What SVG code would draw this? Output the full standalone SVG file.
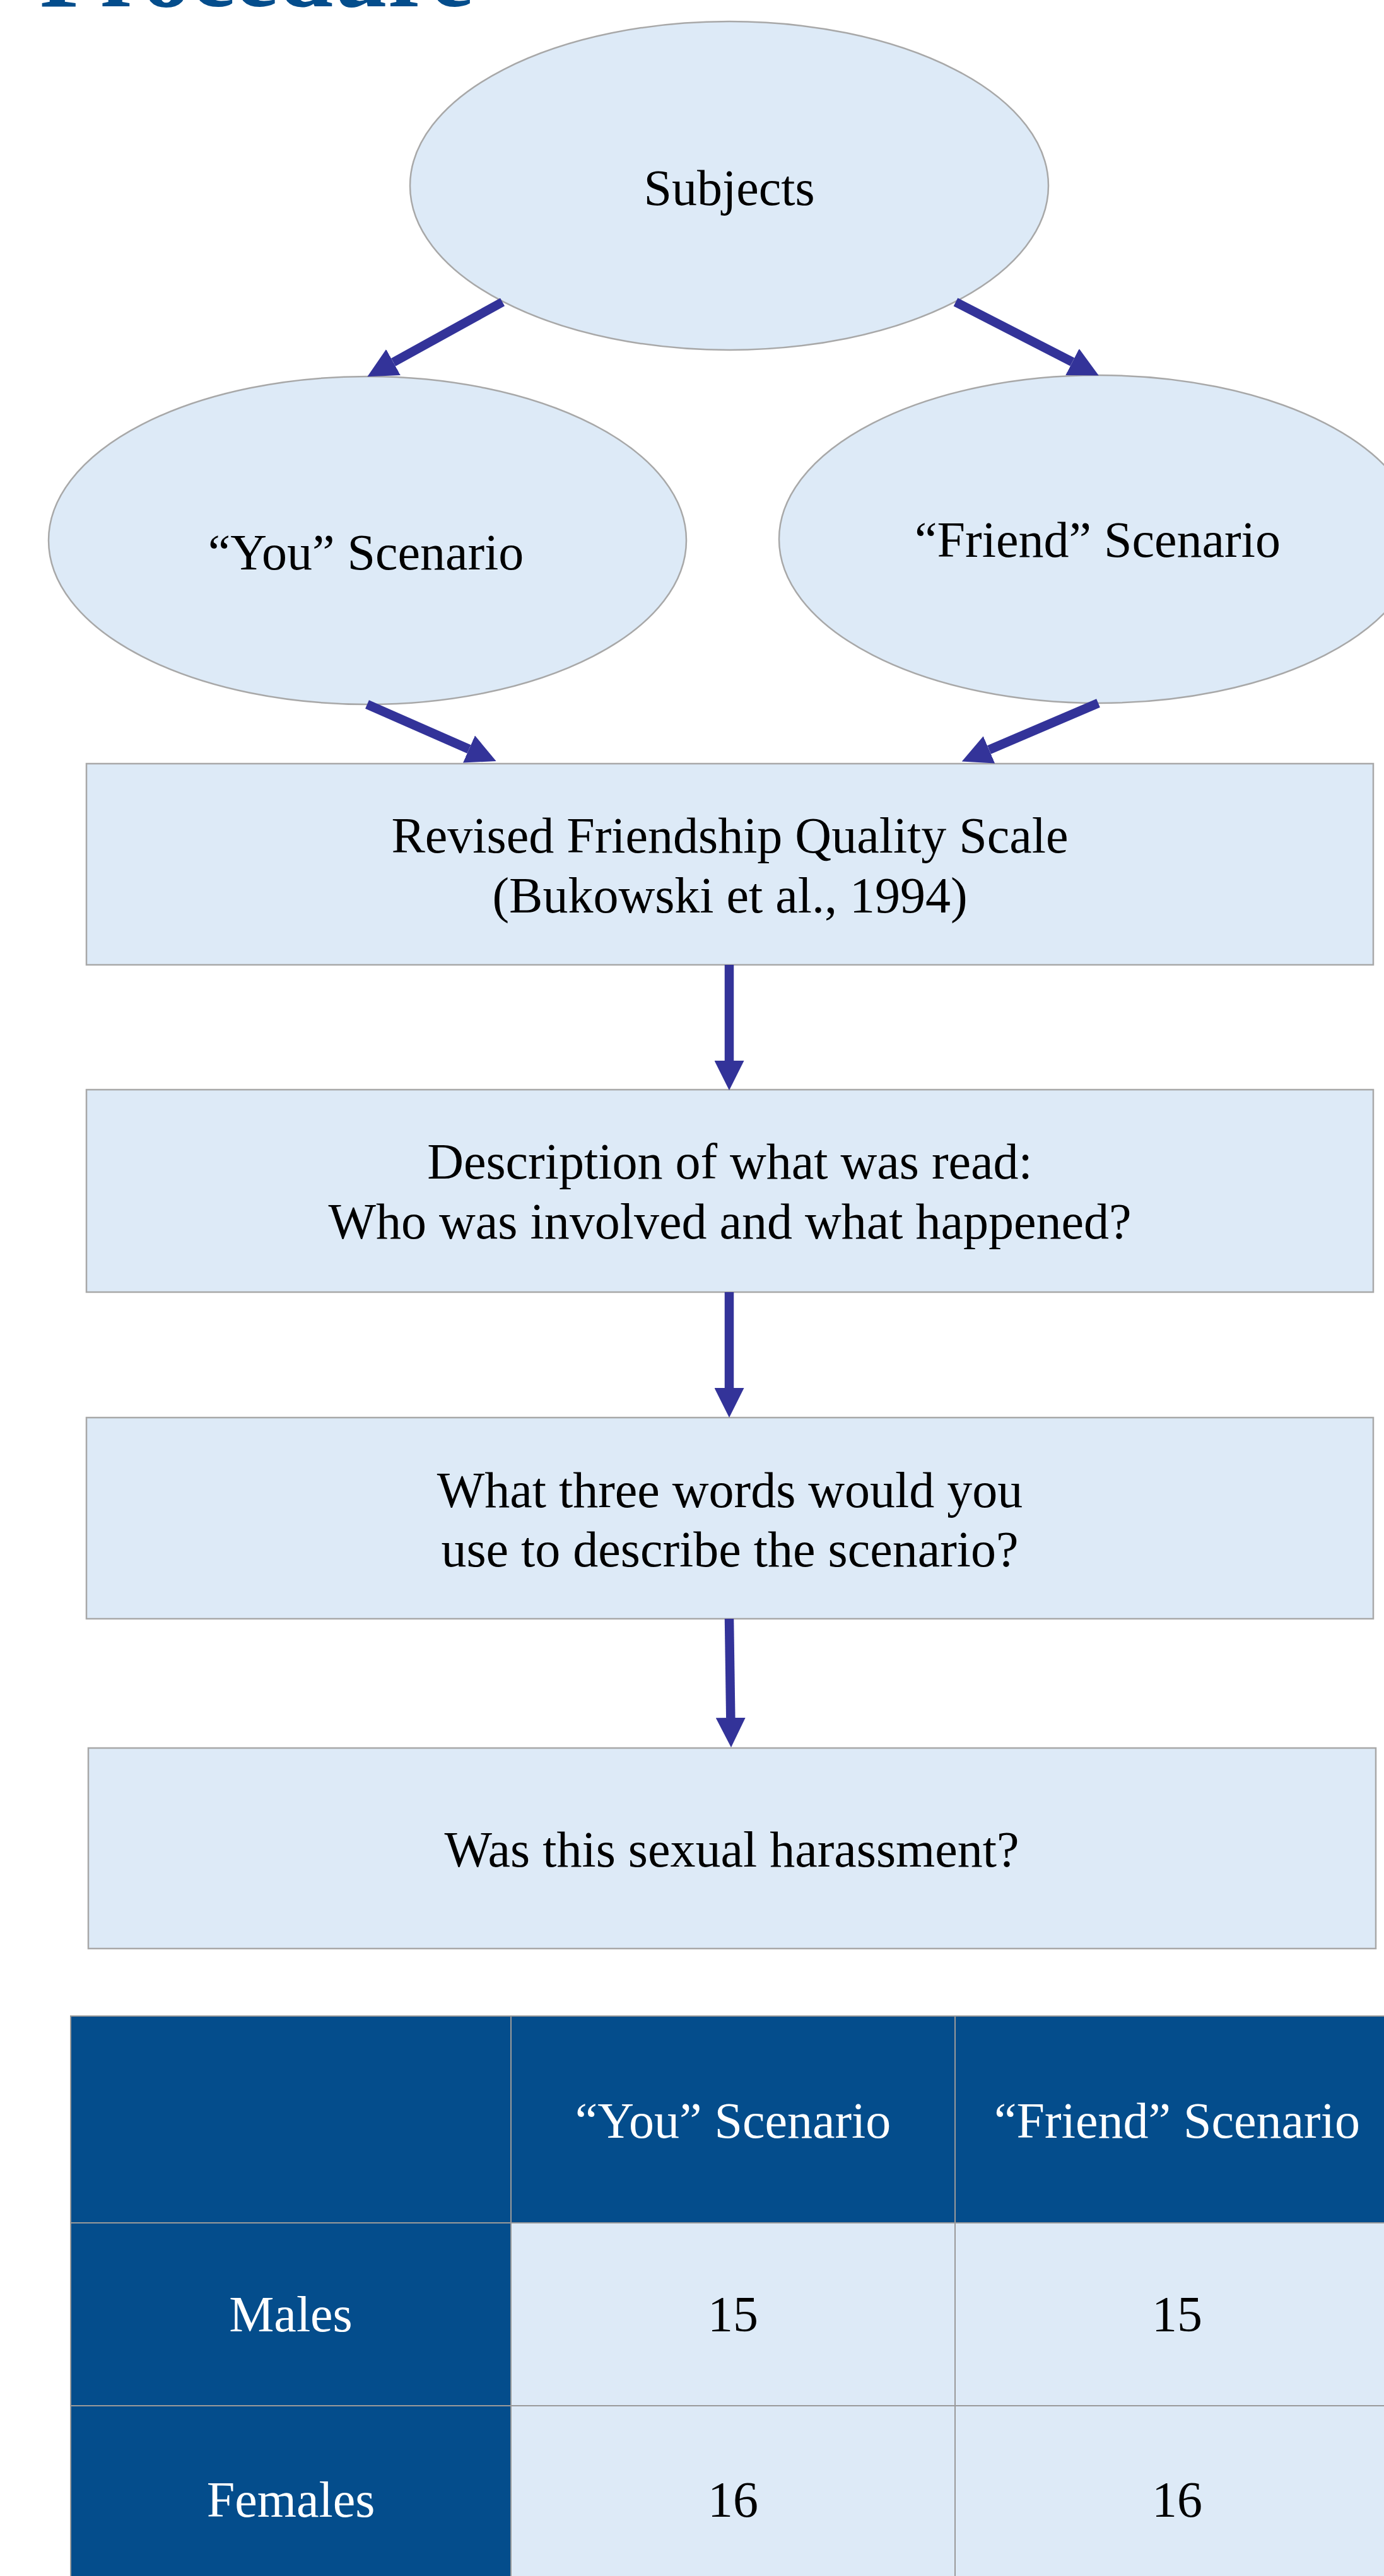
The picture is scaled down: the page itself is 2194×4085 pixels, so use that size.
<svg xmlns="http://www.w3.org/2000/svg" width="2194" height="4085" viewBox="0 0 2194 4085">
<style>
.node{fill:#DDEAF7;stroke:#A8A8A8;stroke-width:2.5}
.t{font-family:"Liberation Serif","Times New Roman",serif;font-size:80px;fill:#000;text-anchor:middle}
.tw{font-family:"Liberation Serif","Times New Roman",serif;font-size:80px;fill:#FFFFFF;text-anchor:middle}
.conn{stroke:#333399;stroke-width:14.5;fill:none;marker-end:url(#ah)}
.hd{fill:#044D8C;stroke:#9A9A9A;stroke-width:2}
.cell{fill:#DDEAF7;stroke:#9A9A9A;stroke-width:2}
</style>
<defs>
<marker id="ah" markerUnits="userSpaceOnUse" markerWidth="47" markerHeight="47" viewBox="0 0 47 47" refX="0" refY="23.5" orient="auto">
<path d="M0,0 L47,23.5 L0,47 z" fill="#333399"/>
</marker>
</defs>
<rect width="2194" height="4085" fill="#FFFFFF"/>
<g id="title">
<text x="63" y="10" style="font-family:'Liberation Serif','Times New Roman',serif;font-size:156px;font-weight:bold;fill:#044D8C">Procedure</text>
</g>
<g id="node-subjects">
<ellipse class="node" cx="1156" cy="294.5" rx="506" ry="260.5"/>
<text class="t" x="1156" y="325">Subjects</text>
</g>
<g id="node-you">
<ellipse class="node" cx="582.5" cy="857" rx="505.5" ry="260"/>
<text class="t" x="580" y="903">“You” Scenario</text>
</g>
<g id="node-friend">
<ellipse class="node" cx="1742" cy="855" rx="507" ry="260"/>
<text class="t" x="1740" y="883">“Friend” Scenario</text>
</g>
<g id="node-rfqs">
<rect class="node" x="137" y="1211" width="2040" height="319"/>
<text class="t" x="1157" y="1352">Revised Friendship Quality Scale</text>
<text class="t" x="1157" y="1447">(Bukowski et al., 1994)</text>
</g>
<g id="node-description">
<rect class="node" x="137" y="1728" width="2040" height="321"/>
<text class="t" x="1157" y="1869">Description of what was read:</text>
<text class="t" x="1157" y="1964">Who was involved and what happened?</text>
</g>
<g id="node-words">
<rect class="node" x="137" y="2248" width="2040" height="319"/>
<text class="t" x="1157" y="2390">What three words would you</text>
<text class="t" x="1157" y="2484">use to describe the scenario?</text>
</g>
<g id="node-harassment">
<rect class="node" x="140" y="2772" width="2041" height="318"/>
<text class="t" x="1160" y="2960">Was this sexual harassment?</text>
</g>
<g id="connectors">
<line class="conn" x1="796.5" y1="479" x2="623.5" y2="574.5"/>
<line class="conn" x1="1515" y1="479" x2="1700" y2="574"/>
<line class="conn" x1="582" y1="1117" x2="743.5" y2="1188"/>
<line class="conn" x1="1741" y1="1115" x2="1568" y2="1189"/>
<line class="conn" x1="1156" y1="1530" x2="1156" y2="1682"/>
<line class="conn" x1="1156" y1="2049" x2="1156" y2="2201"/>
<line class="conn" x1="1156" y1="2567" x2="1158.3" y2="2724"/>
</g>
<g id="table">
<rect class="hd" x="112" y="3197" width="698" height="328"/>
<rect class="hd" x="810" y="3197" width="704" height="328"/>
<rect class="hd" x="1514" y="3197" width="704" height="328"/>
<rect class="hd" x="112" y="3525" width="698" height="290"/>
<rect class="cell" x="810" y="3525" width="704" height="290"/>
<rect class="cell" x="1514" y="3525" width="704" height="290"/>
<rect class="hd" x="112" y="3815" width="698" height="290"/>
<rect class="cell" x="810" y="3815" width="704" height="290"/>
<rect class="cell" x="1514" y="3815" width="704" height="290"/>
<text class="tw" x="1162" y="3390">“You” Scenario</text>
<text class="tw" x="1866" y="3390">“Friend” Scenario</text>
<text class="tw" x="461" y="3697">Males</text>
<text class="t" x="1162" y="3697">15</text>
<text class="t" x="1866" y="3697">15</text>
<text class="tw" x="461" y="3991">Females</text>
<text class="t" x="1162" y="3991">16</text>
<text class="t" x="1866" y="3991">16</text>
</g>
</svg>
